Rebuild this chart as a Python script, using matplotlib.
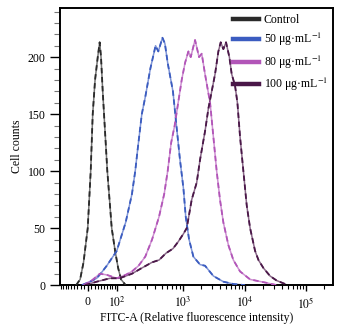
import numpy as np
import matplotlib
matplotlib.use("Agg")
import matplotlib.pyplot as plt
from matplotlib.ticker import FixedLocator

plt.rcParams['font.family'] = ['Liberation Serif', 'DejaVu Serif']
plt.rcParams['mathtext.fontset'] = 'stix'

# --- data (fluorescence value, cell counts) ---
ctrl_x = [-34, -22, -12, 0, 8.5, 14.3, 21.2, 29.2, 35.2, 39.5, 45, 49.4, 56.3, 61, 71, 78, 92.5, 106, 119, 142]
ctrl_y = [0, 5, 20, 50, 100, 150, 180, 200, 213, 200, 170, 150, 120, 100, 70, 50, 30, 15, 5, 0]

c50_x = [-17, 6.6, 26, 41, 59, 100, 142, 179, 201, 220, 253, 285, 339, 404, 443, 509, 552, 606,
         722, 811, 912, 1025, 1117, 1264, 1482, 1897, 2281, 3104, 4488, 6497, 10000]
c50_y = [0, 3, 6, 11, 17, 30, 55, 80, 100, 120, 150, 165, 190, 210, 205, 217, 212, 195,
         170, 140, 110, 85, 60, 40, 25, 18, 17, 8, 3, 1, 0]

c80_x = [-12, 11.4, 35.8, 59, 100, 142, 179, 226, 285, 359, 454, 540, 606, 681, 765, 859, 966,
         1090, 1233, 1343, 1577, 1828, 2018, 2281, 2748, 3104, 3507, 3962, 4488, 5410, 6497,
         8315, 12100, 22600, 33000]
c80_y = [0, 4, 10, 9, 6, 9, 12, 17, 25, 40, 60, 80, 100, 125, 140, 160, 180,
         195, 205, 200, 215, 200, 203, 185, 160, 130, 100, 75, 55, 35, 22,
         12, 5, 2, 0]

c100_x = [-8, 26, 71, 112, 179, 253, 359, 454, 573, 722, 859, 1025, 1159, 1394, 1677, 1897, 2281,
          2584, 2920, 3300, 3733, 4070, 4488, 4955, 5605, 6110, 6910, 7540, 8315, 9400, 10650,
          12100, 14600, 16600, 20000, 25700, 33000, 45300, 48000]
c100_y = [0, 3, 6, 6, 10, 15, 20, 22, 28, 32, 38, 45, 50, 75, 90, 110, 135,
          155, 170, 185, 205, 213, 207, 213, 200, 185, 175, 160, 130, 100, 70,
          50, 30, 22, 15, 8, 4, 1, 0]

labels = ['Control', r'50 μg·mL$^{-1}$', r'80 μg·mL$^{-1}$', r'100 μg·mL$^{-1}$']
colors = ['#2a2a2a', '#3b5cc0', '#b255b8', '#4a1748']

# biexponential-like display scale (piecewise in asinh space)
C = 76.0
knot_v = np.array([-1e7, -100, 0, 1e2, 1e3, 1e4, 1e5, 1e8])
knot_u = np.arcsinh(knot_v / C)
knot_p = np.array([-245.0, 58.7, 87.7, 116.7, 182.7, 245.0, 306.0, 489.0])

def fwd(x):
    return np.interp(np.arcsinh(np.asarray(x, dtype=float) / C), knot_u, knot_p)

def inv(p):
    return C * np.sinh(np.interp(np.asarray(p, dtype=float), knot_p, knot_u))

fig = plt.figure(figsize=(3.43, 3.24), dpi=100)
ax = fig.add_axes([0.175, 0.12, 0.796, 0.855])
ax.set_xscale('function', functions=(fwd, inv))

series = [(ctrl_x, ctrl_y), (c50_x, c50_y), (c80_x, c80_y), (c100_x, c100_y)]
for (xs, ys), col, lab in zip(series, colors, labels):
    ax.plot(xs, ys, color=col, lw=1.1, alpha=0.65, zorder=2)
    ax.plot(xs, ys, color=col, lw=1.3, ls=(0, (3, 2)), zorder=3)
    ax.plot([], [], color=col, lw=3.2, label=lab)

ax.set_xlim(-94, 2.77e5)
ax.set_ylim(0, 243)

ax.xaxis.set_major_locator(FixedLocator([0, 1e2, 1e3, 1e4, 1e5]))
ax.set_xticklabels(['0', '$10^2$', '$10^3$', '$10^4$', '$10^5$'])
minors = [s * v for v in range(10, 100, 10) for s in (-1, 1)]
minors += [m * 10 ** e for e in (2, 3, 4) for m in range(2, 10)] + [2e5]
ax.xaxis.set_minor_locator(FixedLocator(minors))

ax.set_yticks([0, 50, 100, 150, 200])
ax.yaxis.set_minor_locator(FixedLocator(list(range(10, 250, 10))))

ax.tick_params(axis='both', which='major', direction='out', labelsize=8.5, width=1.0)
ax.tick_params(axis='y', which='major', length=7)
ax.tick_params(axis='y', which='minor', length=4, width=0.8, color='#777777')
ax.tick_params(axis='x', which='major', length=4)
ax.tick_params(axis='x', which='minor', length=3, width=0.8)
ax.tick_params(top=False, right=False)

for sp in ax.spines.values():
    sp.set_linewidth(1.4)

ax.set_xlabel('FITC-A (Relative fluorescence intensity)', fontsize=8.5, labelpad=1)
ax.set_ylabel('Cell counts', fontsize=8.5, labelpad=3)

ax.legend(loc='upper right', bbox_to_anchor=(0.98, 0.98), frameon=False, fontsize=8.5,
          handlelength=2.2, handletextpad=0.35, labelspacing=0.45, borderpad=0, borderaxespad=0)

fig.savefig('out.png', dpi=100)
